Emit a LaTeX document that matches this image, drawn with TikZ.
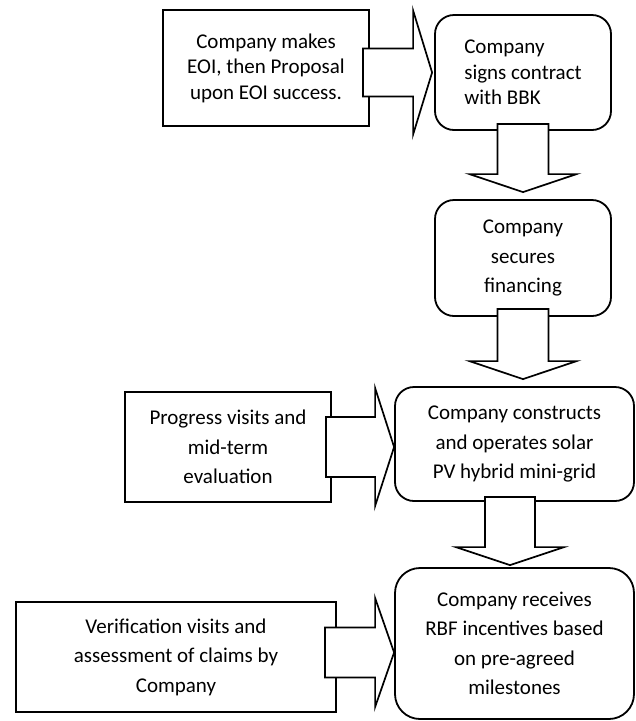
\documentclass[tikz,border=0pt]{standalone}
\usepackage{fontspec}
\setmainfont{Carlito}
\usetikzlibrary{calc}
\tikzset{plainbox/.style={draw,line width=1.8pt,fill=white,inner sep=0pt,align=center,
        font=\fontsize{21}{29.5}\selectfont},
    roundbox/.style={plainbox,rounded corners=19pt},
    blockarrow/.style={draw,line width=1.7pt,fill=white}
}
\newcommand{\rightblock}[4]{% tail, tip, half shaft, half head
  \draw[blockarrow] ($(#1|-#2)+(0,#3)$) -- ($(#2)+(-19,#3)$) -- ($(#2)+(-19,#4)$) -- (#2)
     -- ($(#2)+(-19,-#4)$) -- ($(#2)+(-19,-#3)$) -- ($(#1|-#2)+(0,-#3)$) -- cycle;}
\newcommand{\downblock}[4]{% tail, tip, half shaft, half head
  \draw[blockarrow] ($(#2|-#1)+(-#3,0)$) -- ($(#2)+(-#3,18)$) -- ($(#2)+(-#4,18)$) -- (#2)
     -- ($(#2)+(#4,18)$) -- ($(#2)+(#3,18)$) -- ($(#2|-#1)+(#3,0)$) -- cycle;}
\begin{document}
\begin{tikzpicture}[x=1pt,y=1pt]
           \useasboundingbox (0,0) rectangle (636,-721);
           \node[plainbox,minimum width=206pt,minimum height=116pt,font=\fontsize{21}{25.6}\selectfont] (eoi) at (266,-68) {Company makes\\EOI, then Proposal\\upon EOI success.};
           \node[roundbox,minimum width=176pt,minimum height=115pt,align=left,font=\fontsize{21}{25.6}\selectfont] (contract) at (523,-72.5) {Company\\signs contract\\with BBK};
           \node[roundbox,minimum width=176pt,minimum height=116pt] (finance) at (523,-258) {Company\\secures\\financing};
           \node[roundbox,minimum width=239pt,minimum height=114pt] (build) at (514.5,-444) {Company constructs\\and operates solar\\PV hybrid mini-grid};
           \node[roundbox,rounded corners=25pt,minimum width=239pt,minimum height=151pt] (rbf) at (514.5,-643.5) {Company receives\\RBF incentives based\\on pre-agreed\\milestones};
           \node[plainbox,minimum width=206pt,minimum height=110pt] (progress) at (228,-447) {Progress visits and\\mid-term\\evaluation};
           \node[plainbox,minimum width=320pt,minimum height=110pt] (verify) at (176,-657) {Verification visits and\\assessment of claims by\\Company};
           % block arrows
           \coordinate (a1s) at ([xshift=-7pt]eoi.east);
           \coordinate (a1e) at ([xshift=-2pt]contract.west);
           \rightblock{a1s}{a1e}{24}{62}
           \coordinate (d1s) at ([yshift=7pt]contract.south);
           \coordinate (d1e) at ([yshift=7pt]finance.north);
           \downblock{d1s}{d1e}{25.5}{53.5}
           \coordinate (d2s) at ([yshift=8pt]finance.south);
           \coordinate (d2e) at ($(finance.south|-build.north)+(0,7)$);
           \downblock{d2s}{d2e}{25.5}{53.5}
           \coordinate (d3s) at ([xshift=-4.5pt,yshift=5pt]build.south);
           \coordinate (d3e) at ($(d3s|-rbf.north)+(0,2)$);
           \downblock{d3s}{d3e}{25}{54}
           \coordinate (a3s) at ([xshift=-6pt]progress.east);
           \coordinate (a3e) at (progress.east-|build.west);
           \rightblock{a3s}{a3e}{30}{59}
           \coordinate (a4s) at ([xshift=-12pt]verify.east);
           \coordinate (a4e) at ($(rbf.west)+(0,-9)$);
           \rightblock{a4s}{a4e}{25}{54.5}
\end{tikzpicture}
\end{document}
